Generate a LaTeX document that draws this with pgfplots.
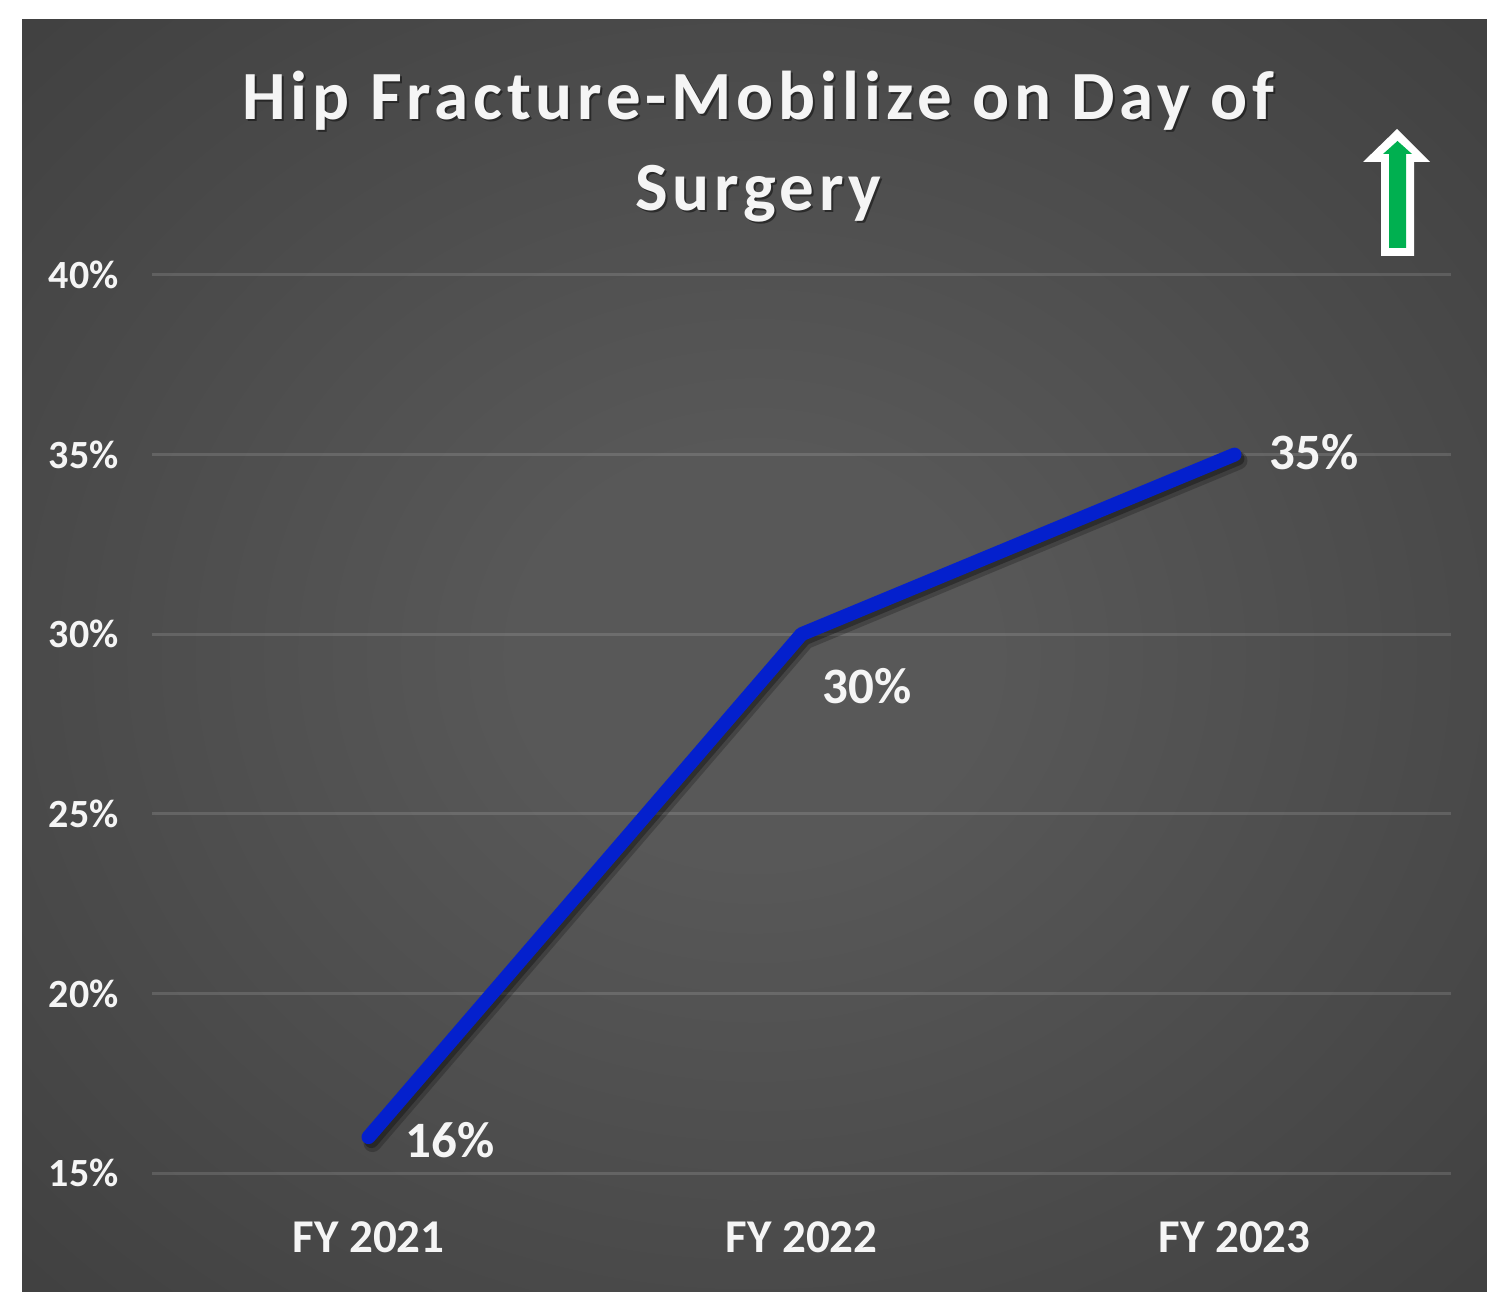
\documentclass[border=0pt]{standalone}
\usepackage{fontspec}
\setmainfont{Carlito}
\newfontfamily\titlefont[LetterSpace=7]{Carlito}
\usepackage{pgfplots}
\pgfplotsset{compat=1.18}
\definecolor{bgin}{RGB}{88,88,88}
\definecolor{bgmid}{RGB}{52,52,52}
\definecolor{bgout}{RGB}{38,38,38}
\definecolor{linec}{RGB}{4,32,205}
\definecolor{arrowg}{RGB}{0,176,80}
\definecolor{txt}{RGB}{245,245,245}
\pgfdeclareradialshading{panelshade}{\pgfpoint{0bp}{0bp}}{color(0bp)=(bgin); color(8bp)=(bgin); color(50bp)=(bgmid); color(71bp)=(bgout)}
\begin{document}
\begin{tikzpicture}
\begin{scope}[x=0.5pt,y=0.5pt]
  \fill[white] (0,0) rectangle (1487,1291);
  \shade[shading=panelshade] (22,0) rectangle (1487,1271);
  % title with soft shadow
  \node[anchor=base, text=black, opacity=0.45, inner sep=0pt] at (760.5,1169) {\titlefont\bfseries\fontsize{34.5}{42}\selectfont Hip Fracture-Mobilize on Day of};
  \node[anchor=base, text=black, opacity=0.45, inner sep=0pt] at (760.5,1078) {\titlefont\bfseries\fontsize{34.5}{42}\selectfont Surgery};
  \node[anchor=base, text=txt, inner sep=0pt] at (758.5,1171) {\titlefont\bfseries\fontsize{34.5}{42}\selectfont Hip Fracture-Mobilize on Day of};
  \node[anchor=base, text=txt, inner sep=0pt] at (758.5,1080) {\titlefont\bfseries\fontsize{34.5}{42}\selectfont Surgery};
  % up arrow
  \fill[white] (1397,1162) -- (1430,1129) -- (1414,1129) -- (1414,1035) -- (1381,1035) -- (1381,1129) -- (1363,1129) -- cycle;
  \fill[arrowg] (1397.5,1150) -- (1412,1137) -- (1406,1137) -- (1406,1043) -- (1389,1043) -- (1389,1137) -- (1383,1137) -- cycle;
\end{scope}
\begin{axis}[
  at={(76pt,59pt)}, anchor=south west,
  scale only axis, width=649.5pt, height=449pt,
  xmin=-0.5, xmax=2.5, ymin=15, ymax=40,
  xtick={0,1,2}, xticklabels={FY 2021,FY 2022,FY 2023},
  ytick={15,20,25,30,35,40},
  yticklabels={15\%,20\%,25\%,30\%,35\%,40\%},
  axis line style={draw=none},
  major tick length=0pt,
  ymajorgrids,
  grid style={draw=white, draw opacity=0.13, line width=1.5pt},
  xticklabel style={font=\bfseries\fontsize{23.5}{28}\selectfont, text=txt, anchor=north, inner sep=0pt, yshift=-24pt},
  yticklabel style={font=\bfseries\fontsize{20}{24}\selectfont, text=txt, anchor=east, inner sep=0pt, xshift=-16.5pt},
  clip=false,
]
\addplot[black, opacity=0.22, line width=9pt, line cap=round, line join=round, xshift=2pt, yshift=-3pt] coordinates {(0,16) (1,30) (2,35)};
\addplot[black, opacity=0.3, line width=7pt, line cap=round, line join=round, xshift=1.5pt, yshift=-2pt] coordinates {(0,16) (1,30) (2,35)};
\addplot[linec, line width=7pt, line cap=round, line join=round] coordinates {(0,16) (1,30) (2,35)};
\node[anchor=base west, inner sep=0pt, text=txt, font=\bfseries\fontsize{25.5}{30}\selectfont, xshift=18.5pt, yshift=-10pt] at (axis cs:0,16) {16\%};
\node[anchor=base west, inner sep=0pt, text=txt, font=\bfseries\fontsize{25.5}{30}\selectfont, xshift=10.5pt, yshift=-34.5pt] at (axis cs:1,30) {30\%};
\node[anchor=base west, inner sep=0pt, text=txt, font=\bfseries\fontsize{25.5}{30}\selectfont, xshift=17.5pt, yshift=-7.5pt] at (axis cs:2,35) {35\%};
\end{axis}
\pgfresetboundingbox
\path (0,0) rectangle (743.5pt,645.5pt);
\end{tikzpicture}
\end{document}
